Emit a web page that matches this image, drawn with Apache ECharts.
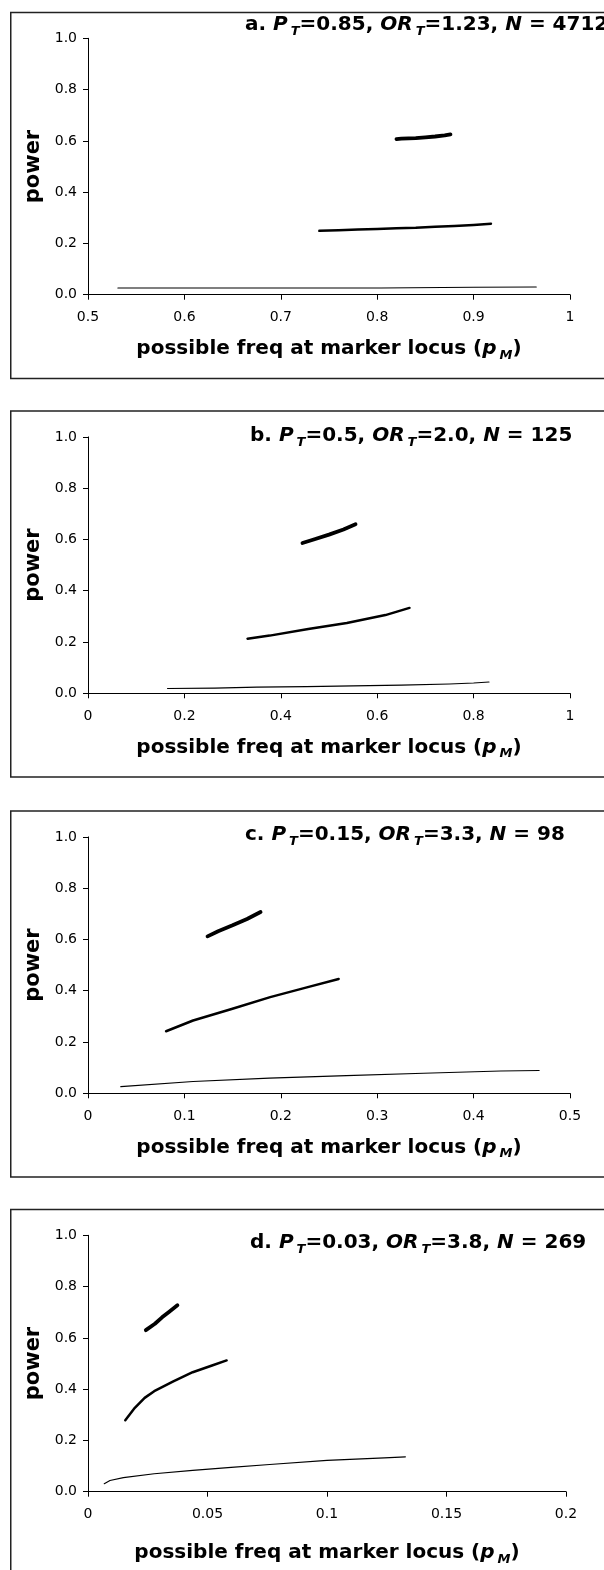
<!DOCTYPE html>
<html>
<head>
<meta charset="utf-8">
<script src="https://cdn.jsdelivr.net/npm/echarts@6/dist/echarts.min.js"></script>
<style>
html,body{margin:0;padding:0;background:#fff;}
#chart{width:604px;height:1570px;}
</style>
</head>
<body>
<div id="chart"></div>
<script>
// ---------- data ----------
// panel titles
const titleValues = [
  ['a.', '0.85', '1.23', '4712'],
  ['b.', '0.5', '2.0', '125'],
  ['c.', '0.15', '3.3', '98'],
  ['d.', '0.03', '3.8', '269']
];
// x-axis ticks per panel
const xTicksA = [0.5, 0.6, 0.7, 0.8, 0.9, 1];
const xTicksB = [0, 0.2, 0.4, 0.6, 0.8, 1];
const xTicksC = [0, 0.1, 0.2, 0.3, 0.4, 0.5];
const xTicksD = [0, 0.05, 0.1, 0.15, 0.2];
// y-axis ticks (same for all panels)
const yTicks = [0, 0.2, 0.4, 0.6, 0.8, 1.0];

// panel a curves [p_M, power]
const aHigh = [[0.820,0.607],[0.825,0.609],[0.840,0.611],[0.850,0.614],[0.860,0.617],[0.870,0.621],[0.876,0.625]];
const aMid  = [[0.740,0.249],[0.760,0.251],[0.780,0.254],[0.800,0.256],[0.820,0.259],[0.840,0.261],[0.860,0.265],[0.880,0.268],[0.900,0.272],[0.918,0.277]];
const aLow  = [[0.531,0.026],[0.700,0.026],[0.804,0.026],[0.806,0.029],[0.900,0.029],[0.965,0.030]];

// panel b curves
const bHigh = [[0.445,0.586],[0.470,0.601],[0.500,0.619],[0.530,0.639],[0.555,0.659]];
const bMid  = [[0.331,0.213],[0.377,0.225],[0.457,0.251],[0.537,0.274],[0.617,0.305],[0.667,0.333]];
const bLow  = [[0.165,0.019],[0.263,0.020],[0.350,0.024],[0.453,0.026],[0.550,0.029],[0.650,0.032],[0.750,0.036],[0.800,0.040],[0.832,0.044]];

// panel c curves
const cHigh = [[0.124,0.612],[0.135,0.632],[0.150,0.655],[0.165,0.680],[0.179,0.707]];
const cMid  = [[0.081,0.242],[0.109,0.284],[0.149,0.329],[0.189,0.375],[0.228,0.414],[0.260,0.446]];
const cLow  = [[0.034,0.026],[0.109,0.046],[0.188,0.059],[0.268,0.069],[0.348,0.078],[0.428,0.087],[0.468,0.089]];

// panel d curves
const dHigh = [[0.0242,0.630],[0.028,0.655],[0.031,0.680],[0.034,0.702],[0.0374,0.727]];
const dMid  = [[0.0156,0.279],[0.0196,0.327],[0.0237,0.366],[0.0277,0.392],[0.0357,0.430],[0.0438,0.466],[0.0519,0.492],[0.058,0.512]];
const dLow  = [[0.0068,0.031],[0.0092,0.044],[0.0148,0.055],[0.0277,0.070],[0.0438,0.083],[0.0599,0.095],[0.076,0.106],[0.100,0.122],[0.124,0.132],[0.1328,0.136]];

// ---------- layout ----------
const FONT = 'DejaVu Sans';
const panels = [
  {T: 10.7,   xt: xTicksA, right: 34, titleLeft: 245, titleTop: 12,   nameGap: 41, curves: [aHigh, aMid, aLow]},
  {T: 409.3,  xt: xTicksB, right: 34, titleLeft: 250, titleTop: 423,  nameGap: 41, curves: [bHigh, bMid, bLow]},
  {T: 809.3,  xt: xTicksC, right: 34, titleLeft: 245, titleTop: 822,  nameGap: 41, curves: [cHigh, cMid, cLow]},
  {T: 1207.7, xt: xTicksD, right: 38, titleLeft: 250, titleTop: 1230, nameGap: 48, curves: [dHigh, dMid, dLow]}
];
const widths = [3.8, 2.5, 1.1];

const rich = {
  n: {fontFamily: FONT, fontWeight: 'bold', fontSize: 20, color: '#000', lineHeight: 26},
  i: {fontFamily: FONT, fontWeight: 'bold', fontStyle: 'italic', fontSize: 20, color: '#000', lineHeight: 26},
  s: {fontFamily: FONT, fontWeight: 'bold', fontStyle: 'italic', fontSize: 13, color: '#000', lineHeight: 18, verticalAlign: 'bottom', padding: [0, 0, 0, 3]}
};

const grid = [], xAxis = [], yAxis = [], series = [], title = [], graphic = [];
panels.forEach((p, k) => {
  const tv = titleValues[k];
  grid.push({left: 88, right: p.right, top: p.T + 27.6, height: 256.4, containLabel: false});
  const step = +(p.xt[1] - p.xt[0]).toFixed(4);
  xAxis.push({
    type: 'value', gridIndex: k, min: p.xt[0], max: p.xt[p.xt.length - 1], interval: step,
    axisLine: {show: true, lineStyle: {color: '#000', width: 1}},
    axisTick: {show: true, length: 5, inside: false, lineStyle: {color: '#000'}},
    splitLine: {show: false},
    axisLabel: {show: true, margin: 16, color: '#000', fontFamily: FONT, fontSize: 14,
      formatter: v => String(+v.toFixed(4))},
    name: '{n|possible freq at marker locus (}{i|p}{s|M}{n|)}',
    nameLocation: 'middle', nameGap: p.nameGap,
    nameTextStyle: {rich: rich}
  });
  yAxis.push({
    type: 'value', gridIndex: k, min: yTicks[0], max: yTicks[yTicks.length - 1], interval: 0.2,
    axisLine: {show: true, lineStyle: {color: '#000', width: 1}},
    axisTick: {show: true, length: 5, inside: false, lineStyle: {color: '#000'}},
    splitLine: {show: false},
    axisLabel: {show: true, margin: 11, color: '#000', fontFamily: FONT, fontSize: 14,
      formatter: v => v.toFixed(1)},
    name: 'power', nameLocation: 'middle', nameGap: 44, nameRotate: 90,
    nameTextStyle: {fontFamily: FONT, fontWeight: 'bold', fontSize: 21, color: '#000'}
  });
  p.curves.forEach((c, j) => {
    series.push({
      type: 'line', xAxisIndex: k, yAxisIndex: k, data: c, showSymbol: false, symbol: 'none',
      smooth: false, silent: true, animation: false,
      lineStyle: {color: '#000', width: widths[j], cap: 'round', join: 'round'}
    });
  });
  title.push({
    left: p.titleLeft, top: p.titleTop, padding: 0,
    text: '{n|' + tv[0] + ' }{i|P}{s|T}{n|=' + tv[1] + ', }{i|OR}{s|T}{n|=' + tv[2] + ', }{i|N}{n| = ' + tv[3] + '}',
    textStyle: {rich: rich}
  });
  graphic.push({
    type: 'rect', left: 8.25, top: p.T - 0.75, silent: true,
    shape: {x: 0, y: 0, width: 700, height: 366},
    style: {fill: 'none', stroke: '#222', lineWidth: 1.5}
  });
});

const chart = echarts.init(document.getElementById('chart'), null, {renderer: 'canvas', width: 604, height: 1570});
chart.setOption({
  animation: false,
  backgroundColor: '#fff',
  title: title,
  grid: grid,
  xAxis: xAxis,
  yAxis: yAxis,
  series: series,
  graphic: graphic
});
</script>
</body>
</html>
